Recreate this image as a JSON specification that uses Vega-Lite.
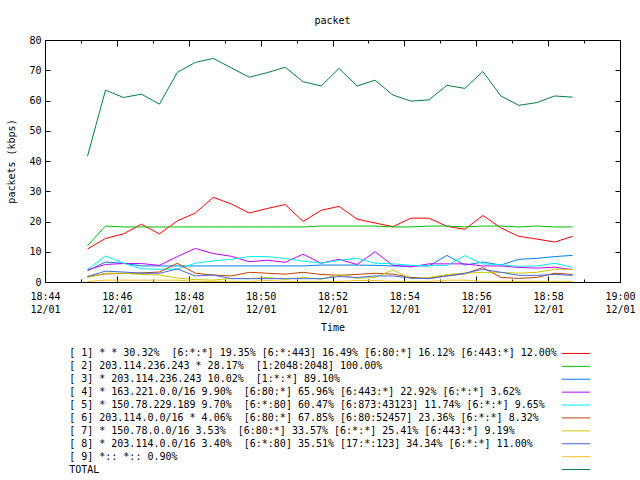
{
  "$schema": "https://vega.github.io/schema/vega-lite/v6.json",
  "padding": {"left": 6, "top": 15, "right": 5, "bottom": 5},
  "spacing": 14,
  "config": {
    "font": "DejaVu Sans Mono",
    "view": {"stroke": "black", "strokeWidth": 1},
    "axis": {"labelFont": "DejaVu Sans Mono", "labelFontSize": 10, "titleFont": "DejaVu Sans Mono", "titleFontSize": 10, "titleFontWeight": "normal", "labelColor": "black", "titleColor": "black", "tickColor": "black", "grid": false, "domain": false},
    "title": {"font": "DejaVu Sans Mono", "fontSize": 10, "fontWeight": "normal", "color": "black"}
  },
  "datasets": {
    "series": [
      {"t": "2010-12-01T18:45:11", "s1": 10.9, "s2": 12.0, "s3": 3.7, "s4": 4.0, "s5": 4.2, "s6": 1.8, "s7": 1.5, "s8": 1.8, "s9": 0.2, "TOTAL": 41.6},
      {"t": "2010-12-01T18:45:41", "s1": 14.4, "s2": 18.5, "s3": 6.6, "s4": 5.8, "s5": 8.6, "s6": 2.7, "s7": 2.9, "s8": 3.6, "s9": 0.6, "TOTAL": 63.4},
      {"t": "2010-12-01T18:46:11", "s1": 15.9, "s2": 18.2, "s3": 6.2, "s4": 6.1, "s5": 6.2, "s6": 2.8, "s7": 2.9, "s8": 3.3, "s9": 0.6, "TOTAL": 61.0},
      {"t": "2010-12-01T18:46:41", "s1": 19.1, "s2": 18.2, "s3": 5.3, "s4": 6.1, "s5": 4.4, "s6": 3.0, "s7": 2.5, "s8": 2.9, "s9": 0.6, "TOTAL": 62.1},
      {"t": "2010-12-01T18:47:11", "s1": 15.9, "s2": 18.2, "s3": 5.3, "s4": 5.5, "s5": 4.2, "s6": 3.3, "s7": 2.3, "s8": 2.9, "s9": 0.6, "TOTAL": 58.8},
      {"t": "2010-12-01T18:47:41", "s1": 20.2, "s2": 18.2, "s3": 5.3, "s4": 8.4, "s5": 4.3, "s6": 6.2, "s7": 1.3, "s8": 4.3, "s9": 0.6, "TOTAL": 69.3},
      {"t": "2010-12-01T18:48:11", "s1": 22.8, "s2": 18.2, "s3": 5.3, "s4": 11.1, "s5": 6.2, "s6": 2.9, "s7": 0.8, "s8": 2.0, "s9": 0.2, "TOTAL": 72.6},
      {"t": "2010-12-01T18:48:41", "s1": 28.0, "s2": 18.2, "s3": 5.3, "s4": 9.4, "s5": 7.0, "s6": 2.3, "s7": 0.6, "s8": 2.3, "s9": 0.2, "TOTAL": 73.9},
      {"t": "2010-12-01T18:49:11", "s1": 25.8, "s2": 18.2, "s3": 5.3, "s4": 8.5, "s5": 7.5, "s6": 2.0, "s7": 1.2, "s8": 1.1, "s9": 0.2, "TOTAL": 70.8},
      {"t": "2010-12-01T18:49:41", "s1": 22.8, "s2": 18.2, "s3": 5.3, "s4": 6.7, "s5": 8.4, "s6": 3.2, "s7": 1.1, "s8": 1.1, "s9": 0.2, "TOTAL": 67.7},
      {"t": "2010-12-01T18:50:11", "s1": 24.3, "s2": 18.2, "s3": 5.3, "s4": 7.2, "s5": 8.4, "s6": 2.9, "s7": 1.5, "s8": 1.1, "s9": 0.5, "TOTAL": 69.2},
      {"t": "2010-12-01T18:50:41", "s1": 25.6, "s2": 18.2, "s3": 5.3, "s4": 6.5, "s5": 7.8, "s6": 2.6, "s7": 0.9, "s8": 1.1, "s9": 0.2, "TOTAL": 71.0},
      {"t": "2010-12-01T18:51:11", "s1": 20.0, "s2": 18.2, "s3": 5.3, "s4": 9.2, "s5": 6.9, "s6": 3.2, "s7": 1.5, "s8": 1.1, "s9": 0.2, "TOTAL": 66.2},
      {"t": "2010-12-01T18:51:41", "s1": 23.7, "s2": 18.5, "s3": 5.6, "s4": 6.2, "s5": 6.2, "s6": 2.5, "s7": 0.9, "s8": 1.1, "s9": 0.2, "TOTAL": 64.8},
      {"t": "2010-12-01T18:52:11", "s1": 25.0, "s2": 18.5, "s3": 5.6, "s4": 7.5, "s5": 7.2, "s6": 2.2, "s7": 2.4, "s8": 1.8, "s9": 0.2, "TOTAL": 70.6},
      {"t": "2010-12-01T18:52:41", "s1": 20.8, "s2": 18.5, "s3": 5.6, "s4": 5.8, "s5": 7.8, "s6": 2.5, "s7": 1.2, "s8": 1.5, "s9": 0.5, "TOTAL": 64.8},
      {"t": "2010-12-01T18:53:11", "s1": 19.5, "s2": 18.5, "s3": 5.5, "s4": 10.0, "s5": 6.2, "s6": 2.9, "s7": 1.5, "s8": 2.0, "s9": 0.5, "TOTAL": 66.7},
      {"t": "2010-12-01T18:53:41", "s1": 18.3, "s2": 18.2, "s3": 5.3, "s4": 5.5, "s5": 6.0, "s6": 2.6, "s7": 4.0, "s8": 2.0, "s9": 0.2, "TOTAL": 61.8},
      {"t": "2010-12-01T18:54:11", "s1": 21.1, "s2": 18.2, "s3": 5.3, "s4": 5.0, "s5": 5.5, "s6": 1.5, "s7": 1.1, "s8": 1.3, "s9": 0.2, "TOTAL": 59.8},
      {"t": "2010-12-01T18:54:41", "s1": 21.1, "s2": 18.5, "s3": 5.3, "s4": 6.0, "s5": 5.4, "s6": 1.2, "s7": 1.5, "s8": 1.1, "s9": 0.2, "TOTAL": 60.2},
      {"t": "2010-12-01T18:55:11", "s1": 18.4, "s2": 18.5, "s3": 8.8, "s4": 6.0, "s5": 5.5, "s6": 2.0, "s7": 2.5, "s8": 2.0, "s9": 0.6, "TOTAL": 65.0},
      {"t": "2010-12-01T18:55:41", "s1": 17.4, "s2": 18.2, "s3": 5.6, "s4": 6.0, "s5": 8.7, "s6": 2.7, "s7": 2.9, "s8": 2.9, "s9": 0.6, "TOTAL": 64.0},
      {"t": "2010-12-01T18:56:11", "s1": 22.0, "s2": 18.5, "s3": 6.6, "s4": 5.3, "s5": 6.0, "s6": 4.8, "s7": 3.2, "s8": 4.2, "s9": 0.2, "TOTAL": 69.6},
      {"t": "2010-12-01T18:56:41", "s1": 17.9, "s2": 18.5, "s3": 5.6, "s4": 5.3, "s5": 5.7, "s6": 1.5, "s7": 3.2, "s8": 3.2, "s9": 0.2, "TOTAL": 61.5},
      {"t": "2010-12-01T18:57:11", "s1": 15.1, "s2": 18.2, "s3": 7.5, "s4": 4.8, "s5": 5.2, "s6": 1.2, "s7": 2.9, "s8": 2.2, "s9": 0.2, "TOTAL": 58.4},
      {"t": "2010-12-01T18:57:41", "s1": 14.2, "s2": 18.5, "s3": 7.8, "s4": 4.6, "s5": 5.3, "s6": 1.5, "s7": 3.2, "s8": 2.2, "s9": 0.2, "TOTAL": 59.3},
      {"t": "2010-12-01T18:58:11", "s1": 13.2, "s2": 18.2, "s3": 8.4, "s4": 4.9, "s5": 6.2, "s6": 2.9, "s7": 4.2, "s8": 2.5, "s9": 0.2, "TOTAL": 61.5},
      {"t": "2010-12-01T18:58:41", "s1": 15.1, "s2": 18.2, "s3": 8.8, "s4": 4.1, "s5": 4.8, "s6": 2.5, "s7": 4.2, "s8": 2.2, "s9": 0.2, "TOTAL": 61.1}
    ],
    "legendRows": [
      {"k": "s1", "label": "[ 1] * * 30.32%\u00a0 [6:*:*] 19.35% [6:*:443] 16.49% [6:80:*] 16.12% [6:443:*] 12.00%"},
      {"k": "s2", "label": "[ 2] 203.114.236.243 * 28.17%\u00a0 [1:2048:2048] 100.00%"},
      {"k": "s3", "label": "[ 3] * 203.114.236.243 10.02%\u00a0 [1:*:*] 89.10%"},
      {"k": "s4", "label": "[ 4] * 163.221.0.0/16 9.90%\u00a0 [6:80:*] 65.96% [6:443:*] 22.92% [6:*:*] 3.62%"},
      {"k": "s5", "label": "[ 5] * 150.78.229.189 9.70%\u00a0 [6:*:80] 60.47% [6:873:43123] 11.74% [6:*:*] 9.65%"},
      {"k": "s6", "label": "[ 6] 203.114.0.0/16 * 4.06%\u00a0 [6:80:*] 67.85% [6:80:52457] 23.36% [6:*:*] 8.32%"},
      {"k": "s7", "label": "[ 7] * 150.78.0.0/16 3.53%\u00a0 [6:80:*] 33.57% [6:*:*] 25.41% [6:443:*] 9.19%"},
      {"k": "s8", "label": "[ 8] * 203.114.0.0/16 3.40%\u00a0 [6:*:80] 35.51% [17:*:123] 34.34% [6:*:*] 11.00%"},
      {"k": "s9", "label": "[ 9] *:: *:: 0.90%"},
      {"k": "TOTAL", "label": "TOTAL"}
    ]
  },
  "vconcat": [
    {
      "title": {"text": "packet", "frame": "group", "anchor": "middle", "offset": 9},
      "width": 575,
      "height": 242,
      "data": {"name": "series"},
      "transform": [{"fold": ["s1", "s2", "s3", "s4", "s5", "s6", "s7", "s8", "s9", "TOTAL"], "as": ["k", "v"]}],
      "layer": [
        {
          "mark": {"type": "line", "strokeWidth": 1},
          "encoding": {
            "x": {
              "field": "t", "type": "temporal",
              "scale": {"domain": [{"year": 2010, "month": 12, "date": 1, "hours": 18, "minutes": 44}, {"year": 2010, "month": 12, "date": 1, "hours": 19, "minutes": 0}]},
              "axis": {
                "orient": "bottom", "title": null, "format": "%H:%M",
                "values": [
                  {"year": 2010, "month": 12, "date": 1, "hours": 18, "minutes": 44},
                  {"year": 2010, "month": 12, "date": 1, "hours": 18, "minutes": 46},
                  {"year": 2010, "month": 12, "date": 1, "hours": 18, "minutes": 48},
                  {"year": 2010, "month": 12, "date": 1, "hours": 18, "minutes": 50},
                  {"year": 2010, "month": 12, "date": 1, "hours": 18, "minutes": 52},
                  {"year": 2010, "month": 12, "date": 1, "hours": 18, "minutes": 54},
                  {"year": 2010, "month": 12, "date": 1, "hours": 18, "minutes": 56},
                  {"year": 2010, "month": 12, "date": 1, "hours": 18, "minutes": 58},
                  {"year": 2010, "month": 12, "date": 1, "hours": 19, "minutes": 0}
                ],
                "offset": -6, "tickSize": 6, "labelPadding": 9,
                "labelOverlap": false, "labelFlush": false, "labelBound": false
              }
            },
            "y": {
              "field": "v", "type": "quantitative",
              "scale": {"domain": [0, 80]},
              "axis": {"orient": "left", "title": "packets (kbps)", "values": [0, 10, 20, 30, 40, 50, 60, 70, 80], "offset": -5, "tickSize": 5, "labelPadding": 4, "titlePadding": 12}
            },
            "color": {
              "field": "k", "type": "nominal",
              "scale": {"domain": ["s1", "s2", "s3", "s4", "s5", "s6", "s7", "s8", "s9", "TOTAL"], "range": ["#ff0000", "#00c000", "#0080ff", "#c000ff", "#00eeee", "#c04000", "#c8c800", "#4169e1", "#ffc020", "#008040"]},
              "legend": null
            }
          }
        },
        {
          "mark": {"type": "point", "opacity": 0},
          "encoding": {
            "x": {
              "field": "t", "type": "temporal",
              "scale": {"domain": [{"year": 2010, "month": 12, "date": 1, "hours": 18, "minutes": 44}, {"year": 2010, "month": 12, "date": 1, "hours": 19, "minutes": 0}]},
              "axis": {
                "orient": "bottom", "title": "Time", "format": "%m/%d",
                "values": [
                  {"year": 2010, "month": 12, "date": 1, "hours": 18, "minutes": 44},
                  {"year": 2010, "month": 12, "date": 1, "hours": 18, "minutes": 46},
                  {"year": 2010, "month": 12, "date": 1, "hours": 18, "minutes": 48},
                  {"year": 2010, "month": 12, "date": 1, "hours": 18, "minutes": 50},
                  {"year": 2010, "month": 12, "date": 1, "hours": 18, "minutes": 52},
                  {"year": 2010, "month": 12, "date": 1, "hours": 18, "minutes": 54},
                  {"year": 2010, "month": 12, "date": 1, "hours": 18, "minutes": 56},
                  {"year": 2010, "month": 12, "date": 1, "hours": 18, "minutes": 58},
                  {"year": 2010, "month": 12, "date": 1, "hours": 19, "minutes": 0}
                ],
                "ticks": false, "tickSize": 0, "labelPadding": 22, "titlePadding": 8,
                "labelOverlap": false, "labelFlush": false, "labelBound": false
              }
            },
            "y": {
              "field": "v", "type": "quantitative",
              "scale": {"domain": [0, 80]},
              "axis": {"orient": "right", "title": null, "labels": false, "values": [0, 10, 20, 30, 40, 50, 60, 70, 80], "offset": -5, "tickSize": 5}
            }
          }
        },
        {
          "mark": {"type": "point", "opacity": 0},
          "encoding": {
            "x": {
              "field": "t", "type": "temporal",
              "scale": {"domain": [{"year": 2010, "month": 12, "date": 1, "hours": 18, "minutes": 44}, {"year": 2010, "month": 12, "date": 1, "hours": 19, "minutes": 0}]},
              "axis": {
                "orient": "top", "title": null, "labels": false,
                "values": [
                  {"year": 2010, "month": 12, "date": 1, "hours": 18, "minutes": 44},
                  {"year": 2010, "month": 12, "date": 1, "hours": 18, "minutes": 46},
                  {"year": 2010, "month": 12, "date": 1, "hours": 18, "minutes": 48},
                  {"year": 2010, "month": 12, "date": 1, "hours": 18, "minutes": 50},
                  {"year": 2010, "month": 12, "date": 1, "hours": 18, "minutes": 52},
                  {"year": 2010, "month": 12, "date": 1, "hours": 18, "minutes": 54},
                  {"year": 2010, "month": 12, "date": 1, "hours": 18, "minutes": 56},
                  {"year": 2010, "month": 12, "date": 1, "hours": 18, "minutes": 58},
                  {"year": 2010, "month": 12, "date": 1, "hours": 19, "minutes": 0}
                ],
                "offset": -6, "tickSize": 6
              }
            },
            "y": {"field": "v", "type": "quantitative", "scale": {"domain": [0, 80]}, "axis": null}
          }
        },
        {
          "mark": {"type": "point", "opacity": 0},
          "encoding": {
            "x": {
              "field": "t", "type": "temporal",
              "scale": {"domain": [{"year": 2010, "month": 12, "date": 1, "hours": 18, "minutes": 44}, {"year": 2010, "month": 12, "date": 1, "hours": 19, "minutes": 0}]},
              "axis": {"orient": "top", "title": null, "labels": false, "tickCount": 16, "offset": -3, "tickSize": 3}
            },
            "y": {"field": "v", "type": "quantitative", "scale": {"domain": [0, 80]}, "axis": null}
          }
        },
        {
          "mark": {"type": "point", "opacity": 0},
          "encoding": {
            "x": {
              "field": "t", "type": "temporal",
              "scale": {"domain": [{"year": 2010, "month": 12, "date": 1, "hours": 18, "minutes": 44}, {"year": 2010, "month": 12, "date": 1, "hours": 19, "minutes": 0}]},
              "axis": {"orient": "bottom", "title": null, "labels": false, "tickCount": 16, "offset": -3, "tickSize": 3}
            },
            "y": {"field": "v", "type": "quantitative", "scale": {"domain": [0, 80]}, "axis": null}
          }
        }
      ],
      "resolve": {"axis": {"x": "independent", "y": "independent"}}
    },
    {
      "width": 575,
      "height": 129,
      "view": {"stroke": null},
      "data": {"name": "legendRows"},
      "layer": [
        {
          "mark": {"type": "text", "align": "left", "baseline": "middle", "font": "DejaVu Sans Mono", "fontSize": 10, "color": "black"},
          "encoding": {
            "x": {"datum": 4.2, "type": "quantitative", "scale": {"domain": [0, 100]}, "axis": null},
            "y": {"field": "k", "type": "nominal", "scale": {"domain": ["s1", "s2", "s3", "s4", "s5", "s6", "s7", "s8", "s9", "TOTAL"], "paddingInner": 0, "paddingOuter": 0}, "axis": null},
            "text": {"field": "label"}
          }
        },
        {
          "mark": {"type": "rule", "strokeWidth": 1},
          "encoding": {
            "x": {"datum": 89.9, "type": "quantitative", "axis": null},
            "x2": {"datum": 94.8},
            "y": {"field": "k", "type": "nominal", "axis": null},
            "color": {
              "field": "k", "type": "nominal",
              "scale": {"domain": ["s1", "s2", "s3", "s4", "s5", "s6", "s7", "s8", "s9", "TOTAL"], "range": ["#ff0000", "#00c000", "#0080ff", "#c000ff", "#00eeee", "#c04000", "#c8c800", "#4169e1", "#ffc020", "#008040"]},
              "legend": null
            }
          }
        }
      ]
    }
  ]
}
